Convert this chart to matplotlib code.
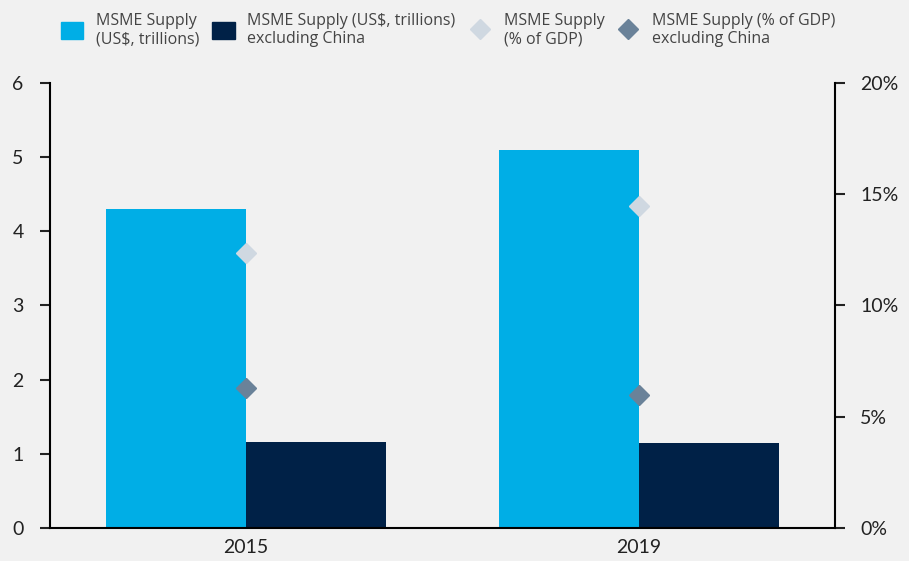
import numpy as np
import matplotlib.pyplot as plt
from matplotlib.lines import Line2D
from matplotlib.patches import Patch

years = ["2015", "2019"]
supply = [4.30, 5.10]             # US$ trillions
supply_ex_china = [1.16, 1.15]    # US$ trillions
pct_gdp = [12.35, 14.45]          # % of GDP
pct_gdp_ex_china = [6.3, 5.98]    # % of GDP

light_blue = "#00aee6"
navy = "#002147"
pale = "#cfd8e1"
slate = "#6a8299"
bg = "#f1f1f1"

plt.rcParams['font.family'] = ['Lato', 'DejaVu Sans']

fig = plt.figure(figsize=(9.09, 5.61), dpi=100, facecolor=bg)
ax = fig.add_axes([0.055, 0.059, 0.8636, 0.793])
ax.set_facecolor(bg)

x = np.arange(len(years))
w = 0.357
ax.bar(x - w / 2, supply, w, color=light_blue)
ax.bar(x + w / 2, supply_ex_china, w, color=navy)

ax.set_xlim(-0.5, 1.5)
ax.set_ylim(0, 6)
ax.set_yticks(range(7))
ax.set_xticks(x)
ax.set_xticklabels(years)
ax.tick_params(axis='x', length=0, labelsize=14, pad=8, colors='#222222')
ax.tick_params(axis='y', length=7, width=1.5, labelsize=14, pad=12, colors='#222222')
for s in ['left', 'bottom']:
    ax.spines[s].set_linewidth(1.5)
for s in ['top', 'right']:
    ax.spines[s].set_visible(False)

ax2 = ax.twinx()
ax2.set_ylim(0, 20)
ax2.set_yticks([0, 5, 10, 15, 20])
ax2.set_yticklabels([f"{v}%" for v in [0, 5, 10, 15, 20]])
ax2.plot(x, pct_gdp, linestyle='none', marker='D', markersize=10, color=pale)
ax2.plot(x, pct_gdp_ex_china, linestyle='none', marker='D', markersize=10, color=slate)
ax2.tick_params(axis='y', direction='out', length=7, width=1.5, labelsize=14, pad=11, colors='#222222')
ax2.spines['right'].set_linewidth(1.5)
for s in ['top', 'left', 'bottom']:
    ax2.spines[s].set_visible(False)
ax2.set_xlim(-0.5, 1.5)

handles = [
    Patch(color=light_blue),
    Patch(color=navy),
    Line2D([], [], linestyle='none', marker='D', markersize=10.5, color=pale),
    Line2D([], [], linestyle='none', marker='D', markersize=10.5, color=slate),
]
labels = [
    "MSME Supply\n(US$, trillions)",
    "MSME Supply (US$, trillions)\nexcluding China",
    "MSME Supply\n(% of GDP)",
    "MSME Supply (% of GDP)\nexcluding China",
]
fig.legend(handles, labels, loc='center left', bbox_to_anchor=(0.067, 1 - 30 / 561), ncol=4,
           frameon=False, handlelength=1.4, handleheight=1.25, handletextpad=0.8,
           columnspacing=0.8, labelcolor='#444444', borderaxespad=0, borderpad=0,
           labelspacing=0.2,
           prop={'family': ['Open Sans', 'DejaVu Sans'], 'size': 11.5})

fig.savefig("out.png", dpi=100, facecolor=bg)
